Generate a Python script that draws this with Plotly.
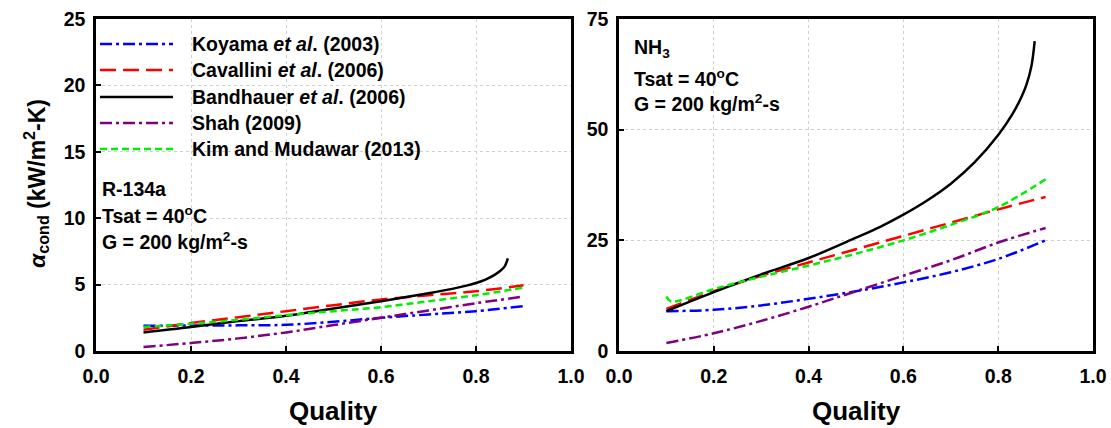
import plotly.graph_objects as go

W, H = 1111, 428

# ---- data ----
quality = [0.1, 0.2, 0.3, 0.4, 0.5, 0.6, 0.7, 0.8, 0.9]

r134_koyama = [1.9, 1.92, 1.93, 1.97, 2.2, 2.5, 2.75, 3.0, 3.38]
r134_cavallini = [1.6, 2.1, 2.55, 3.0, 3.45, 3.88, 4.2, 4.5, 4.95]
r134_band_x = [0.1, 0.2, 0.3, 0.4, 0.5, 0.6, 0.7, 0.75, 0.78, 0.8, 0.82, 0.84, 0.85, 0.86, 0.867]
r134_band = [1.4, 1.8, 2.25, 2.65, 3.2, 3.75, 4.35, 4.68, 4.92, 5.12, 5.38, 5.75, 6.0, 6.35, 6.97]
r134_shah = [0.3, 0.6, 0.95, 1.4, 1.95, 2.5, 3.05, 3.6, 4.1]
r134_kim = [1.8, 2.05, 2.35, 2.7, 3.0, 3.3, 3.75, 4.2, 4.78]

nh3_koyama = [9.0, 9.3, 10.3, 11.8, 13.5, 15.5, 17.8, 20.8, 25.0]
nh3_cavallini = [9.5, 13.5, 17.0, 20.0, 23.0, 26.0, 29.0, 32.0, 34.8]
nh3_band_x = [0.1, 0.2, 0.3, 0.4, 0.5, 0.55, 0.6, 0.65, 0.7, 0.75, 0.8, 0.83, 0.85, 0.86, 0.87, 0.877]
nh3_band = [9.0, 13.3, 17.3, 21.0, 25.6, 28.0, 30.8, 34.0, 37.8, 42.6, 48.8, 53.5, 57.6, 60.3, 64.3, 70.0]
nh3_shah = [1.8, 4.0, 6.8, 10.0, 13.5, 17.0, 20.5, 24.5, 27.8]
nh3_kim_x = [0.1, 0.11, 0.2, 0.3, 0.4, 0.5, 0.6, 0.7, 0.8, 0.9]
nh3_kim = [12.3, 11.2, 14.0, 16.8, 19.3, 22.0, 25.0, 28.5, 32.5, 38.8]

names = ["Koyama <i>et al</i>. (2003)", "Cavallini <i>et al</i>. (2006)",
         "Bandhauer <i>et al</i>. (2006)", "Shah (2009)", "Kim and Mudawar (2013)"]
colors = ["#0000ff", "#ff0000", "#000000", "#800080", "#00ee00"]
dashes = ["12px,4px,3px,4px", "16px,7px", "solid", "12px,4px,3px,4px", "7px,4px"]

FONT = "Arial, 'Liberation Sans', sans-serif"
FS = 19.5

fig = go.Figure()

left_series = [(quality, r134_koyama), (quality, r134_cavallini), (r134_band_x, r134_band),
               (quality, r134_shah), (quality, r134_kim)]
right_series = [(quality, nh3_koyama), (quality, nh3_cavallini), (nh3_band_x, nh3_band),
                (quality, nh3_shah), (nh3_kim_x, nh3_kim)]

for i, (xs, ys) in enumerate(left_series):
    fig.add_trace(go.Scatter(x=xs, y=ys, mode="lines", name=names[i], showlegend=False,
                             line=dict(color=colors[i], dash=dashes[i], width=2.5, shape="spline",
                                       smoothing=1.0),
                             xaxis="x", yaxis="y"))
for i, (xs, ys) in enumerate(right_series):
    fig.add_trace(go.Scatter(x=xs, y=ys, mode="lines", name=names[i], showlegend=False,
                             line=dict(color=colors[i], dash=dashes[i], width=2.5, shape="spline",
                                       smoothing=1.0),
                             xaxis="x2", yaxis="y2"))

def px(x):
    return x / W

def py(y):
    return 1 - y / H

left_dom = [px(96), px(571)]
right_dom = [px(619), px(1093)]
ydom = [py(351), py(19)]

axis_common = dict(showline=True, linecolor="black", linewidth=2.5, mirror=True,
                   showgrid=True, gridcolor="#d0d0d0", griddash="dot", gridwidth=1,
                   zeroline=False, ticks="inside", ticklen=5, tickwidth=1.5, tickcolor="black",
                   automargin=False,
                   tickfont=dict(family=FONT, size=FS, color="black", weight="bold"))

fig.update_layout(
    width=W, height=H, autosize=False,
    margin=dict(l=0, r=0, t=0, b=0, pad=0),
    paper_bgcolor="white", plot_bgcolor="white",
    font=dict(family=FONT, color="black"),
    xaxis=dict(domain=left_dom, range=[0, 1], dtick=0.2, tickformat=".1f",
               ticklabelstandoff=6, anchor="y", **axis_common),
    yaxis=dict(domain=ydom, range=[0, 25], dtick=5, anchor="x", ticklabelstandoff=4,
               **axis_common),
    xaxis2=dict(domain=right_dom, range=[0, 1], dtick=0.2, tickformat=".1f",
                ticklabelstandoff=6, anchor="y2", **axis_common),
    yaxis2=dict(domain=ydom, range=[0, 75], dtick=25, anchor="x2", ticklabelstandoff=4,
                **axis_common),
)

annotations = []
shapes = []

# axis titles
for cx in (333, 856):
    annotations.append(dict(xref="paper", yref="paper", x=px(cx), y=py(411),
                            xanchor="center", yanchor="middle", showarrow=False,
                            text="<b>Quality</b>",
                            font=dict(family=FONT, size=26, color="black")))
annotations.append(dict(xref="paper", yref="paper", x=px(36), y=py(184),
                        xanchor="center", yanchor="middle", showarrow=False, textangle=-90,
                        text="<b><i>α</i><sub>cond</sub> (kW/m<sup>2</sup>-K)</b>",
                        font=dict(family=FONT, size=23, color="black")))

# ---- legend drawn inside the left panel ----
leg_y = [44, 70, 97, 123, 149]
for i in range(5):
    shapes.append(dict(type="line", xref="paper", yref="paper",
                       x0=px(100), x1=px(173), y0=py(leg_y[i]), y1=py(leg_y[i]),
                       line=dict(color=colors[i], dash=dashes[i], width=2.5)))
    annotations.append(dict(xref="paper", yref="paper", x=px(190), y=py(leg_y[i]),
                            xanchor="left", yanchor="middle", showarrow=False,
                            text="<b>" + names[i] + "</b>",
                            font=dict(family=FONT, size=FS, color="black")))

texts_left = [("R-134a", 189), ("Tsat = 40<sup>o</sup>C", 215), ("G = 200 kg/m<sup>2</sup>-s", 241)]
for t, yy in texts_left:
    annotations.append(dict(xref="paper", yref="paper", x=px(100), y=py(yy),
                            xanchor="left", yanchor="middle", showarrow=False,
                            text="<b>" + t + "</b>",
                            font=dict(family=FONT, size=FS, color="black")))
texts_right = [("NH<sub>3</sub>", 48), ("Tsat = 40<sup>o</sup>C", 78), ("G = 200 kg/m<sup>2</sup>-s", 103)]
for t, yy in texts_right:
    annotations.append(dict(xref="paper", yref="paper", x=px(632), y=py(yy),
                            xanchor="left", yanchor="middle", showarrow=False,
                            text="<b>" + t + "</b>",
                            font=dict(family=FONT, size=FS, color="black")))

fig.update_layout(shapes=shapes, annotations=annotations)

fig.write_html("out.html")
